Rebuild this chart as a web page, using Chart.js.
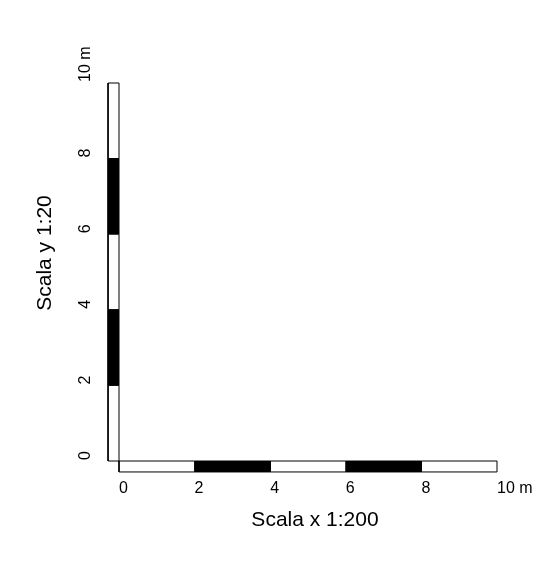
<!DOCTYPE html>
<html>
<head>
<meta charset="utf-8">
<script src="https://cdn.jsdelivr.net/npm/chart.js@4/dist/chart.umd.min.js"></script>
<style>
  html, body { margin: 0; padding: 0; background: #ffffff; }
  canvas { display: block; }
</style>
</head>
<body>
<canvas id="c" width="540" height="573"></canvas>
<script>
// ---- data ----
const segStarts = [0, 2, 4, 6, 8];
const segEnds = [2, 4, 6, 8, 10];
const segFilled = [false, true, false, true, false];
const xTicks = [0, 2, 4, 6, 8, 10];
const xTickLabels = ['0', '2', '4', '6', '8', '10 m'];
const yTicks = [0, 2, 4, 6, 8, 10];
const yTickLabels = ['0', '2', '4', '6', '8', '10 m'];
const xTitle = 'Scala x 1:200';
const yTitle = 'Scala y 1:20';

// ---- layout constants ----
const W = 540, H = 573;
const ORIGIN_X = 119, ORIGIN_Y = 461, PPU = 37.8;
const BAR = 0.29;
const FONT = '"Liberation Sans", Arial, sans-serif';

function rect(x0, x1, y0, y1) {
  return [{x: x0, y: y0}, {x: x1, y: y0}, {x: x1, y: y1}, {x: x0, y: y1}, {x: x0, y: y0}];
}

const datasets = [];
segStarts.forEach((s, i) => {
  const fillCol = segFilled[i] ? '#000000' : '#ffffff';
  // x scale bar (horizontal)
  datasets.push({
    data: rect(s, segEnds[i], -BAR, 0),
    fill: 'shape', backgroundColor: fillCol, borderColor: '#000000',
    borderWidth: 1, pointRadius: 0, showLine: true, tension: 0
  });
  // y scale bar (vertical)
  datasets.push({
    data: rect(-BAR, 0, s, segEnds[i]),
    fill: 'shape', backgroundColor: fillCol, borderColor: '#000000',
    borderWidth: 1, pointRadius: 0, showLine: true, tension: 0
  });
});

const labelsPlugin = {
  id: 'scaleLabels',
  afterDraw(chart) {
    const ctx = chart.ctx;
    const xs = chart.scales.x, ys = chart.scales.y;
    ctx.save();
    ctx.fillStyle = '#000000';
    ctx.font = '16px ' + FONT;
    ctx.textAlign = 'left';
    ctx.textBaseline = 'middle';
    xTicks.forEach((v, i) => {
      ctx.fillText(xTickLabels[i], xs.getPixelForValue(v), 489);
    });
    yTicks.forEach((v, i) => {
      ctx.save();
      ctx.translate(86, ys.getPixelForValue(v) - 1);
      ctx.rotate(-Math.PI / 2);
      ctx.fillText(yTickLabels[i], 0, 0);
      ctx.restore();
    });
    ctx.font = '21px ' + FONT;
    ctx.textAlign = 'center';
    ctx.fillText(xTitle, 315, 520);
    ctx.save();
    ctx.translate(45, 253);
    ctx.rotate(-Math.PI / 2);
    ctx.fillText(yTitle, 0, 0);
    ctx.restore();
    ctx.restore();
  }
};

new Chart(document.getElementById('c'), {
  type: 'scatter',
  data: { datasets },
  options: {
    responsive: false,
    animation: false,
    layout: { padding: 0 },
    scales: {
      x: { type: 'linear', display: false, min: -ORIGIN_X / PPU, max: (W - ORIGIN_X) / PPU },
      y: { type: 'linear', display: false, min: -(H - ORIGIN_Y) / PPU, max: ORIGIN_Y / PPU }
    },
    plugins: { legend: { display: false }, tooltip: { enabled: false } }
  },
  plugins: [labelsPlugin]
});
</script>
</body>
</html>
